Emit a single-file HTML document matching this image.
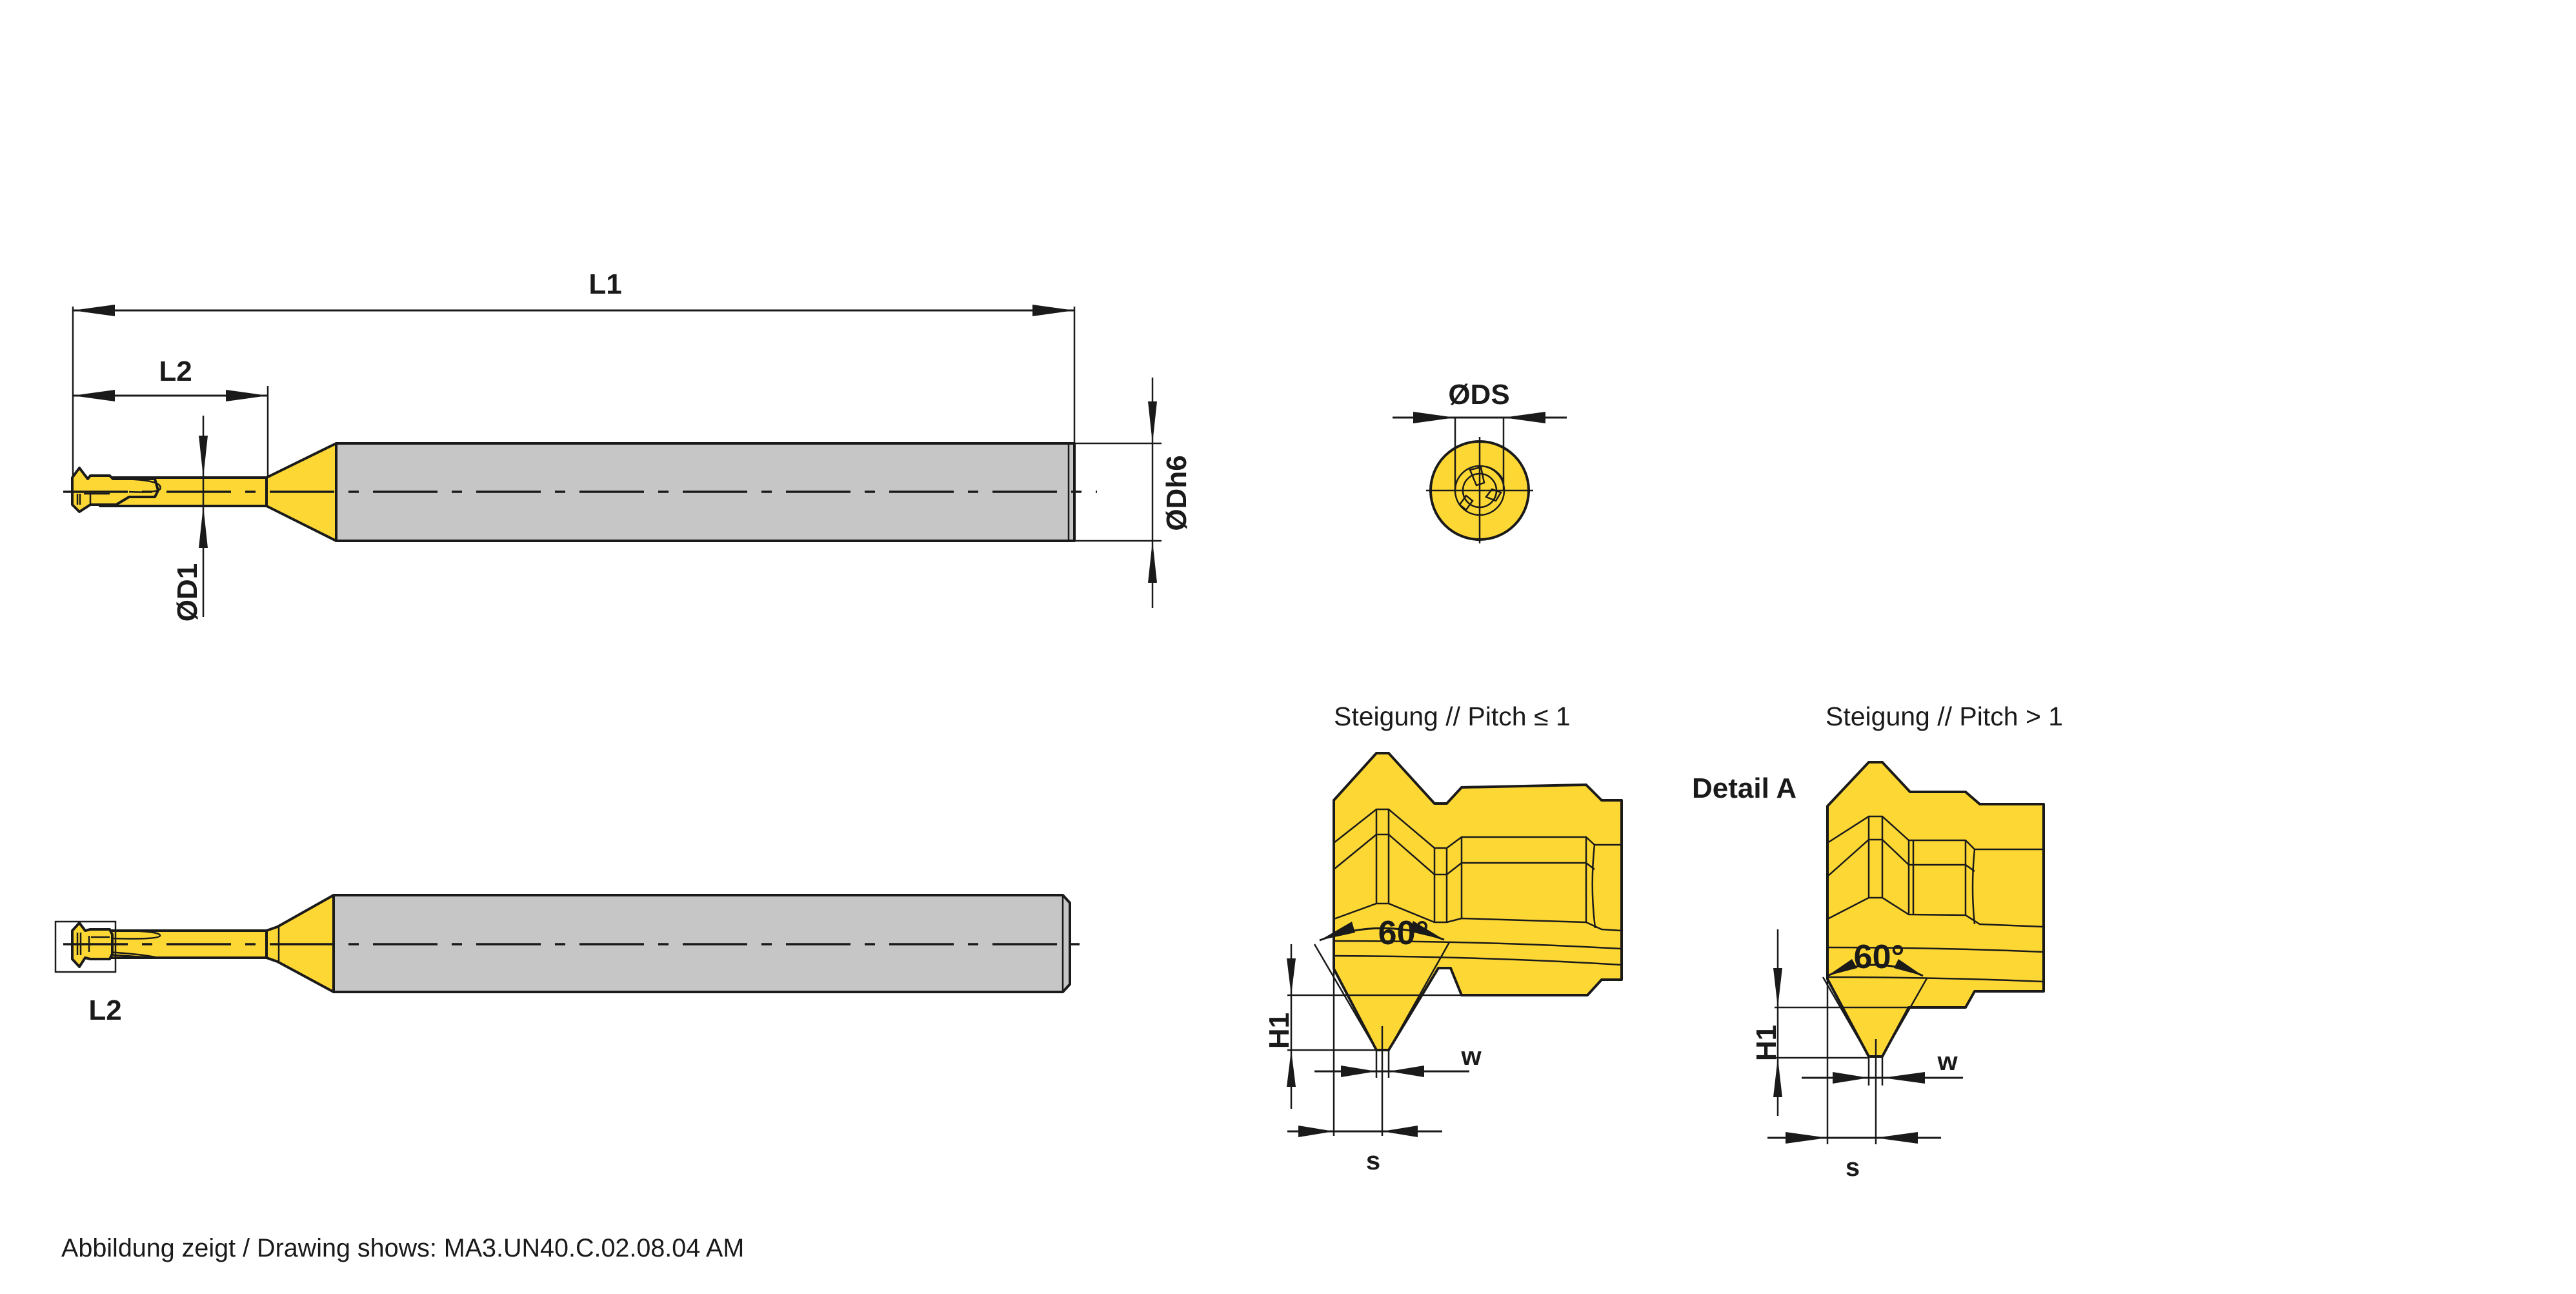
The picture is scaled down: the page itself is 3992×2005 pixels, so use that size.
<!DOCTYPE html>
<html><head><meta charset="utf-8"><style>
html,body{margin:0;padding:0;background:#fff;}
svg{display:block;}
text{font-family:"Liberation Sans",sans-serif;fill:#1a1a1a;}
</style></head><body>
<svg width="3992" height="2005" viewBox="0 0 3992 2005" xmlns="http://www.w3.org/2000/svg">
<defs>
<style>
.o{stroke:#1a1a1a;stroke-width:4;stroke-linejoin:round;}
.t{stroke:#1a1a1a;stroke-width:2.5;fill:none;}
.th{stroke:#1a1a1a;stroke-width:3;fill:none;}
.y{fill:#fdd835;}
.g{fill:#c6c6c6;}
.a{fill:#1a1a1a;}
.c{stroke:#1a1a1a;stroke-width:3.5;fill:none;stroke-dasharray:100 22 16 22;}
</style>
</defs>

<!-- ===== TOP TOOL ===== -->
<line class="t" x1="113" y1="475" x2="113" y2="755"/>
<line class="t" x1="1665" y1="475" x2="1665" y2="687"/>
<line class="th" x1="113" y1="481" x2="1665" y2="481"/>
<polygon class="a" points="113,481 178,472 178,490"/>
<polygon class="a" points="1665,481 1600,472 1600,490"/>
<text x="938" y="455" font-size="44" font-weight="bold" text-anchor="middle">L1</text>
<line class="t" x1="415" y1="598" x2="415" y2="740"/>
<line class="th" x1="113" y1="613" x2="415" y2="613"/>
<polygon class="a" points="113,613 178,604 178,622"/>
<polygon class="a" points="415,613 350,604 350,622"/>
<text x="272" y="590" font-size="44" font-weight="bold" text-anchor="middle">L2</text>

<rect class="g o" x="521" y="687" width="1144" height="151"/>
<line class="t" x1="1656" y1="687" x2="1656" y2="838"/>
<polygon class="y o" points="413,740 521,687 521,838 413,784"/>
<rect class="y o" x="155" y="740" width="258" height="44"/>
<line class="t" x1="413" y1="740" x2="413" y2="784"/>
<polygon class="y o" points="112,740 123,725 136,742 140,737 170,737 175,742 240,742 245,760 240,770 200,770 180,782 140,782 123,793 112,782"/>
<path class="t" d="M175,742 Q255,742 248,758 Q240,764 200,762"/>
<line class="t" x1="120" y1="765" x2="120" y2="782"/>
<line class="t" x1="124" y1="765" x2="124" y2="782"/>
<line class="t" x1="140" y1="765" x2="140" y2="782"/>
<line class="t" x1="130" y1="765" x2="170" y2="765"/>
<line class="c" x1="98" y1="762" x2="1700" y2="762"/>
<line class="t" x1="315" y1="644" x2="315" y2="956"/>
<polygon class="a" points="315,740 308,675 322,675"/>
<polygon class="a" points="315,784 308,849 322,849"/>
<text transform="translate(305,918) rotate(-90)" font-size="44" font-weight="bold" text-anchor="middle">ØD1</text>
<line class="t" x1="1665" y1="687" x2="1800" y2="687"/>
<line class="t" x1="1665" y1="838" x2="1800" y2="838"/>
<line class="t" x1="1786" y1="585" x2="1786" y2="942"/>
<polygon class="a" points="1786,687 1779,622 1793,622"/>
<polygon class="a" points="1786,838 1779,903 1793,903"/>
<text transform="translate(1838,764) rotate(-90)" font-size="44" font-weight="bold" text-anchor="middle">ØDh6</text>

<!-- ===== END VIEW ===== -->
<circle class="y o" cx="2293" cy="760" r="76"/>
<circle class="t" cx="2293" cy="760" r="38"/>
<circle class="t" cx="2293" cy="760" r="26"/>
<path class="t" d="M2278,728 L2295,724 L2300,748 L2288,752 Z M2312,758 L2326,763 L2318,776 L2303,770 Z M2272,768 L2282,776 L2272,790 L2262,782 Z"/>
<path class="t" d="M2303,723 A40,40 0 0 1 2330,745"/>
<line class="t" x1="2210" y1="760" x2="2376" y2="760"/>
<line class="t" x1="2293" y1="677" x2="2293" y2="842"/>
<line class="t" x1="2255" y1="647" x2="2255" y2="760"/>
<line class="t" x1="2330" y1="647" x2="2330" y2="760"/>
<line class="th" x1="2158" y1="647" x2="2428" y2="647"/>
<polygon class="a" points="2255,647 2190,638 2190,656"/>
<polygon class="a" points="2330,647 2395,638 2395,656"/>
<text x="2292" y="626" font-size="44" font-weight="bold" text-anchor="middle">ØDS</text>

<!-- ===== BOTTOM TOOL ===== -->
<polygon class="g o" points="517,1387 1647,1387 1658,1399 1658,1525 1647,1537 517,1537"/>
<line class="t" x1="1647" y1="1387" x2="1647" y2="1537"/>
<polygon class="y o" points="413,1442 430,1436 517,1387 517,1537 430,1490 413,1484"/>
<line class="t" x1="432" y1="1436" x2="432" y2="1490"/>
<rect class="y o" x="170" y="1442" width="243" height="42"/>
<line class="t" x1="413" y1="1442" x2="413" y2="1484"/>
<path class="t" d="M175,1442 Q250,1442 248,1450 Q245,1456 175,1454"/>
<path class="t" d="M150,1474 Q220,1478 245,1484 M150,1478 Q210,1482 240,1484"/>
<rect class="t" x="86" y="1428" width="93" height="78" fill="#fff"/>
<polygon class="y o" points="112,1442 123,1430 132,1442 140,1440 170,1440 174,1448 174,1478 170,1486 140,1486 132,1484 123,1498 112,1486"/>
<line class="t" x1="120" y1="1445" x2="120" y2="1480"/>
<line class="t" x1="125" y1="1445" x2="125" y2="1480"/>
<line class="t" x1="138" y1="1450" x2="138" y2="1475"/>
<line class="t" x1="141" y1="1452" x2="170" y2="1452"/>
<line class="c" x1="98" y1="1463" x2="1673" y2="1463"/>
<text x="163" y="1580" font-size="44" font-weight="bold" text-anchor="middle">L2</text>

<!-- ===== DETAIL A ===== -->
<text x="2067" y="1124" font-size="41">Steigung // Pitch ≤ 1</text>
<text x="2829" y="1124" font-size="41">Steigung // Pitch &gt; 1</text>
<text x="2622" y="1236" font-size="44" font-weight="bold">Detail A</text>

<polygon class="y o" points="2067,1240 2133,1167 2152,1167 2223,1245 2242,1245 2265,1220 2458,1216 2482,1240 2513,1240 2513,1518 2482,1518 2460,1542 2265,1542 2248,1500 2229,1500 2152,1627 2133,1627 2067,1501"/>
<polyline class="t" points="2067,1306 2133,1254 2152,1254 2223,1314 2242,1314 2265,1297 2458,1297 2471,1309 2513,1309"/>
<polyline class="t" points="2067,1347 2133,1293 2152,1293 2223,1355 2242,1355 2265,1337 2458,1337 2471,1347"/>
<polyline class="t" points="2067,1424 2133,1400 2152,1400 2223,1429 2242,1429 2265,1423 2458,1429 2482,1440 2513,1442"/>
<line class="t" x1="2133" y1="1254" x2="2133" y2="1400"/>
<line class="t" x1="2152" y1="1254" x2="2152" y2="1400"/>
<line class="t" x1="2223" y1="1314" x2="2223" y2="1429"/>
<line class="t" x1="2242" y1="1314" x2="2242" y2="1429"/>
<line class="t" x1="2265" y1="1297" x2="2265" y2="1423"/>
<line class="t" x1="2458" y1="1297" x2="2458" y2="1429"/>
<path class="t" d="M2471,1309 Q2464,1375 2472,1438"/>
<path class="t" d="M2067,1458 Q2300,1458 2513,1470"/>
<path class="t" d="M2067,1481 Q2300,1482 2513,1495"/>
<line class="t" x1="2037" y1="1463" x2="2133" y2="1627"/>
<line class="t" x1="2246" y1="1460" x2="2152" y2="1627"/>
<path class="th" d="M2045,1457 Q2140,1420 2238,1456"/>
<polygon class="a" points="2045,1457 2095,1428 2100,1445"/>
<polygon class="a" points="2238,1456 2183,1443 2190,1427"/>
<text x="2175" y="1463" font-size="52" font-weight="bold" text-anchor="middle">60°</text>
<line class="t" x1="1995" y1="1542" x2="2265" y2="1542"/>
<line class="t" x1="1995" y1="1627" x2="2133" y2="1627"/>
<line class="t" x1="2001" y1="1463" x2="2001" y2="1718"/>
<polygon class="a" points="2001,1542 1994,1485 2008,1485"/>
<polygon class="a" points="2001,1627 1994,1684 2008,1684"/>
<text transform="translate(1997,1597) rotate(-90)" font-size="44" font-weight="bold" text-anchor="middle">H1</text>
<line class="t" x1="2133" y1="1627" x2="2133" y2="1670"/>
<line class="t" x1="2142" y1="1590" x2="2142" y2="1760"/>
<line class="t" x1="2152" y1="1627" x2="2152" y2="1670"/>
<line class="th" x1="2037" y1="1660" x2="2277" y2="1660"/>
<polygon class="a" points="2133,1660 2078,1651 2078,1669"/>
<polygon class="a" points="2152,1660 2207,1651 2207,1669"/>
<text x="2280" y="1650" font-size="40" font-weight="bold" text-anchor="middle">w</text>
<line class="t" x1="2067" y1="1501" x2="2067" y2="1760"/>
<line class="th" x1="1995" y1="1753" x2="2235" y2="1753"/>
<polygon class="a" points="2067,1753 2012,1744 2012,1762"/>
<polygon class="a" points="2142,1753 2197,1744 2197,1762"/>
<text x="2128" y="1812" font-size="40" font-weight="bold" text-anchor="middle">s</text>

<polygon class="y o" points="2832,1249 2896,1181 2917,1181 2960,1227 3046,1227 3068,1246 3167,1246 3167,1536 3060,1536 3046,1561 2958,1561 2917,1637 2896,1637 2832,1517"/>
<polyline class="t" points="2832,1306 2896,1265 2917,1265 2958,1302 3046,1302 3060,1316 3167,1316"/>
<polyline class="t" points="2832,1358 2896,1301 2917,1301 2958,1340 3046,1340 3060,1350"/>
<polyline class="t" points="2832,1424 2896,1391 2917,1391 2958,1417 3046,1418 3068,1432 3167,1436"/>
<line class="t" x1="2896" y1="1265" x2="2896" y2="1391"/>
<line class="t" x1="2917" y1="1265" x2="2917" y2="1391"/>
<line class="t" x1="2958" y1="1302" x2="2958" y2="1417"/>
<line class="t" x1="2965" y1="1302" x2="2965" y2="1417"/>
<line class="t" x1="3046" y1="1302" x2="3046" y2="1418"/>
<path class="t" d="M3060,1316 Q3054,1375 3060,1432"/>
<path class="t" d="M2832,1468 Q3000,1468 3167,1475"/>
<path class="t" d="M2832,1514 Q3000,1514 3167,1521"/>
<line class="t" x1="2825" y1="1514" x2="2896" y2="1637"/>
<line class="t" x1="2986" y1="1516" x2="2917" y2="1637"/>
<path class="th" d="M2832,1512 Q2906,1478 2980,1512"/>
<polygon class="a" points="2832,1512 2870,1486 2878,1500"/>
<polygon class="a" points="2980,1512 2935,1500 2942,1486"/>
<text x="2912" y="1500" font-size="52" font-weight="bold" text-anchor="middle">60°</text>
<line class="t" x1="2750" y1="1561" x2="2958" y2="1561"/>
<line class="t" x1="2750" y1="1639" x2="2896" y2="1639"/>
<line class="t" x1="2755" y1="1440" x2="2755" y2="1729"/>
<polygon class="a" points="2755,1561 2748,1500 2762,1500"/>
<polygon class="a" points="2755,1639 2748,1700 2762,1700"/>
<text transform="translate(2752,1616) rotate(-90)" font-size="44" font-weight="bold" text-anchor="middle">H1</text>
<line class="t" x1="2896" y1="1637" x2="2896" y2="1682"/>
<line class="t" x1="2907" y1="1610" x2="2907" y2="1773"/>
<line class="t" x1="2917" y1="1637" x2="2917" y2="1682"/>
<line class="th" x1="2792" y1="1670" x2="3042" y2="1670"/>
<polygon class="a" points="2896,1670 2840,1661 2840,1679"/>
<polygon class="a" points="2917,1670 2983,1661 2983,1679"/>
<text x="3018" y="1658" font-size="40" font-weight="bold" text-anchor="middle">w</text>
<line class="t" x1="2832" y1="1517" x2="2832" y2="1773"/>
<line class="th" x1="2739" y1="1763" x2="3008" y2="1763"/>
<polygon class="a" points="2832,1763 2767,1754 2767,1772"/>
<polygon class="a" points="2907,1763 2972,1754 2972,1772"/>
<text x="2871" y="1822" font-size="40" font-weight="bold" text-anchor="middle">s</text>

<text x="95" y="1947" font-size="39.5">Abbildung zeigt / Drawing shows: MA3.UN40.C.02.08.04 AM</text>
</svg>
</body></html>
